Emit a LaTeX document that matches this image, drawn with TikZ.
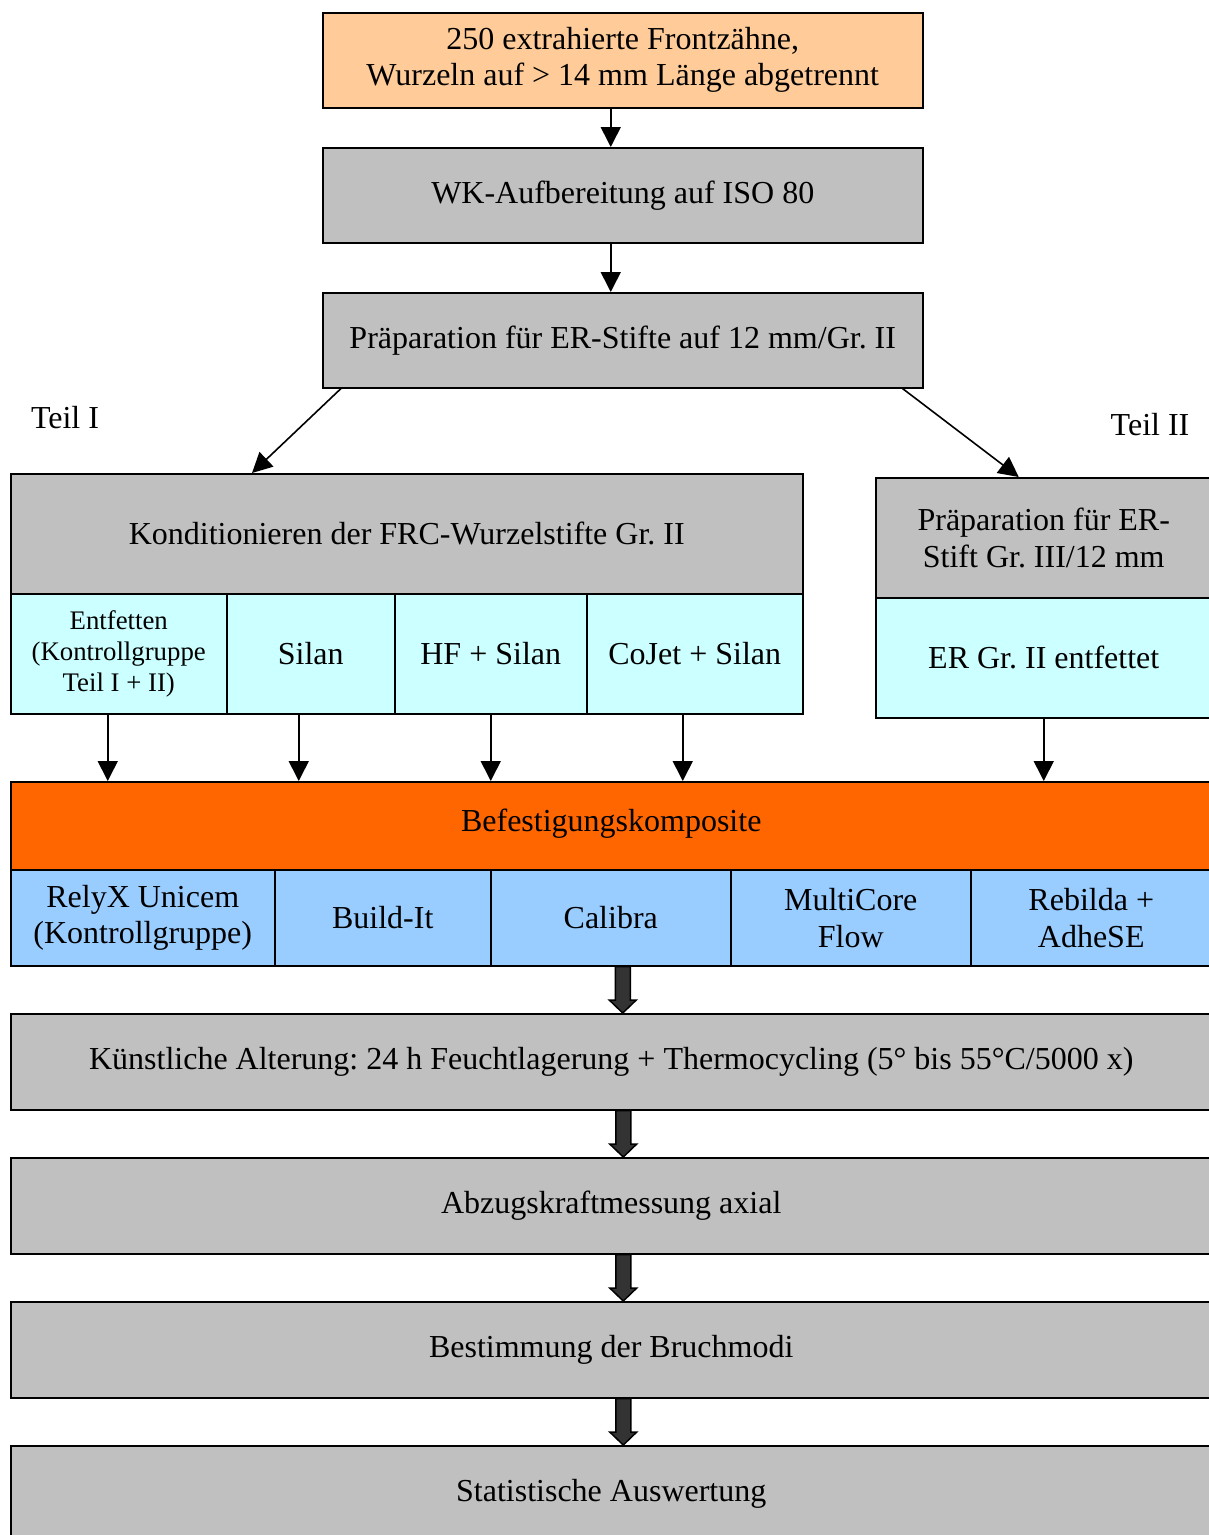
\documentclass[tikz,border=0pt]{standalone}
\usepackage{fontspec}
\setmainfont{Liberation Serif}
\usetikzlibrary{arrows.meta,calc}
\definecolor{peach}{HTML}{FFCC99}
\definecolor{boxgray}{HTML}{C0C0C0}
\definecolor{paleCyan}{HTML}{CCFFFF}
\definecolor{barOrange}{HTML}{FF6600}
\definecolor{paleBlue}{HTML}{99CCFF}
\definecolor{fatGray}{HTML}{333333}
\newcommand\fatarrow[2]{%
  \draw[fat] let \p1=([xshift=12pt]#1.south), \p2=(#2.north) in
  (\x1-7.5pt,\y1) -- (\x1+7.5pt,\y1) -- (\x1+7.5pt,\y2+13pt) -- (\x1+13.5pt,\y2+13pt)
  -- (\x1,\y2) -- (\x1-13.5pt,\y2+13pt) -- (\x1-7.5pt,\y2+13pt) -- cycle;}
\begin{document}
\frenchspacing
\begin{tikzpicture}[x=1pt,y=-1pt,
  box/.style={draw=black, line width=1.5pt, inner sep=0pt, align=center,
    anchor=north west, font=\fontsize{32}{37}\selectfont},
  small/.style={font=\fontsize{26.8}{31}\selectfont},
  arr/.style={draw=black, line width=1.6pt, -{Triangle[width=20pt,length=20pt]}},
  fat/.style={draw=black, line width=1.5pt, fill=fatGray, line join=miter},
  lbl/.style={font=\fontsize{32}{37}\selectfont, inner sep=0pt}]
\clip (0,0) rectangle (1209,1535);
\fill[white] (0,0) rectangle (1209,1535);

% top chain
\node[box, fill=peach, minimum width=600pt, minimum height=95pt] (b1) at (322,12)
  {\raisebox{-4pt}{\begin{tabular}{@{}c@{}}250 extrahierte Frontzähne,\\[-0.7pt]Wurzeln auf > 14 mm Länge abgetrennt\end{tabular}}};
\node[box, fill=boxgray, minimum width=600pt, minimum height=95pt] (b2) at (322,147)
  {\raisebox{6pt}{WK-Aufbereitung auf ISO 80}};
\node[box, fill=boxgray, minimum width=600pt, minimum height=95pt] (b3) at (322,292)
  {\raisebox{6pt}{Präparation für ER-Stifte auf 12 mm/Gr. II}};

\draw[arr] ([xshift=-12pt]b1.south) -- ([xshift=-12pt]b2.north);
\draw[arr] ([xshift=-12pt]b2.south) -- ([xshift=-12pt]b3.north);

% labels
\node[lbl] (t1) at (65,418) {Teil I};
\node[lbl] (t2) at (1150,425) {Teil II};

% left block
\node[box, fill=boxgray, minimum width=792pt, minimum height=120pt] (kond) at (10,473)
  {Konditionieren der FRC-Wurzelstifte Gr. II};
\node[box, fill=paleCyan, minimum width=216pt, minimum height=120pt, small] (c1) at (10,593)
  {Entfetten\\(Kontrollgruppe\\Teil I + II)};
\node[box, fill=paleCyan, minimum width=168pt, minimum height=120pt] (c2) at (226,593) {Silan};
\node[box, fill=paleCyan, minimum width=192pt, minimum height=120pt] (c3) at (394,593) {HF + Silan};
\node[box, fill=paleCyan, minimum width=216pt, minimum height=120pt] (c4) at (586,593) {CoJet + Silan};

% right block
\node[box, fill=boxgray, minimum width=336pt, minimum height=120pt] (rp) at (875,477)
  {Präparation für ER-\\Stift Gr. III/12 mm};
\node[box, fill=paleCyan, minimum width=336pt, minimum height=120pt] (rc) at (875,597)
  {ER Gr. II entfettet};

\draw[arr] ([xshift=19pt]b3.south west) -- ([xshift=242pt]kond.north west);
\draw[arr] ([xshift=-21pt]b3.south east) -- ([xshift=-25pt]rp.north);

% orange bar
\node[box, fill=barOrange, minimum width=1201pt, minimum height=88pt] (bar) at (10,781)
  {\raisebox{11pt}{Befestigungskomposite}};

\draw[arr] ([xshift=-11pt]c1.south) -- ([xshift=-11pt]c1.south |- bar.north);
\draw[arr] ([xshift=-12pt]c2.south) -- ([xshift=-12pt]c2.south |- bar.north);
\draw[arr] (c3.south) -- (c3.south |- bar.north);
\draw[arr] ([xshift=-12pt]c4.south) -- ([xshift=-12pt]c4.south |- bar.north);
\draw[arr] (rc.south) -- (rc.south |- bar.north);

% blue row
\node[box, fill=paleBlue, minimum width=264pt, minimum height=96pt] (m1) at (10,869)
  {\raisebox{-4pt}{\begin{tabular}{@{}c@{}}RelyX Unicem\\[-0.7pt](Kontrollgruppe)\end{tabular}}};
\node[box, fill=paleBlue, minimum width=216pt, minimum height=96pt] (m2) at (274,869) {Build-It};
\node[box, fill=paleBlue, minimum width=240pt, minimum height=96pt] (m3) at (490,869) {Calibra};
\node[box, fill=paleBlue, minimum width=240pt, minimum height=96pt] (m4) at (730,869) {MultiCore\\Flow};
\node[box, fill=paleBlue, minimum width=241pt, minimum height=96pt] (m5) at (970,869) {Rebilda +\\AdheSE};

% bottom chain
\node[box, fill=boxgray, minimum width=1201pt, minimum height=96pt] (s1) at (10,1013)
  {\raisebox{4pt}{Künstliche Alterung: 24 h Feuchtlagerung + Thermocycling (5° bis 55°C/5000 x)}};
\node[box, fill=boxgray, minimum width=1201pt, minimum height=96pt] (s2) at (10,1157)
  {\raisebox{4pt}{Abzugskraftmessung axial}};
\node[box, fill=boxgray, minimum width=1201pt, minimum height=96pt] (s3) at (10,1301)
  {\raisebox{4pt}{Bestimmung der Bruchmodi}};
\node[box, fill=boxgray, minimum width=1201pt, minimum height=96pt] (s4) at (10,1445)
  {\raisebox{4pt}{Statistische Auswertung}};

\fatarrow{m3}{s1}
\fatarrow{s1}{s2}
\fatarrow{s2}{s3}
\fatarrow{s3}{s4}
\end{tikzpicture}
\end{document}
